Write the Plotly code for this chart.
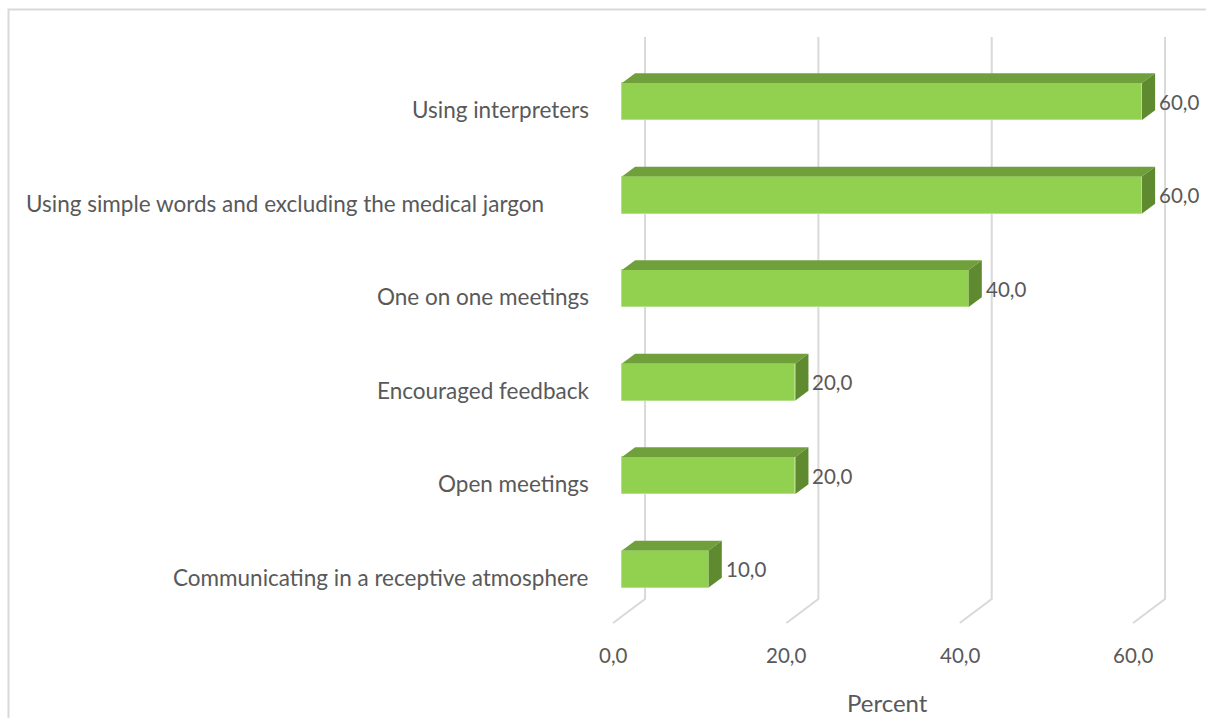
import plotly.graph_objects as go

# --- data -----------------------------------------------------------------
categories = [
    "Communicating in a receptive atmosphere",
    "Open meetings",
    "Encouraged feedback",
    "One on one meetings",
    "Using simple words and excluding the medical jargon",
    "Using interpreters",
]
percent = [10.0, 20.0, 20.0, 40.0, 60.0, 60.0]
tick_values = [0, 20, 40, 60]
axis_title = "Percent"

# --- geometry (pixels) ----------------------------------------------------
W, H = 1206, 718
X0_PX = 622          # front face of the bars at value 0
PX_PER_UNIT = 8.667  # horizontal pixels per percent
Y0_PX = 569          # centre of the first category's front face
PX_PER_CAT = 93.5    # vertical spacing between categories
BAR_H_PX = 37        # front-face height

# oblique depth vector of the floor (front -> back) in pixels
DEPTH_DX_PX, DEPTH_DY_PX = 32, 24
BAR_D0, BAR_D1 = 0.28, 0.69   # bar front / back as fraction of floor depth

WALL_TOP_PX = 37
FLOOR_BACK_PX = 599

FONT = "Lato"
TEXT_COLOR = "#595959"
GRID_COLOR = "#d9d9d9"
FRONT_COLOR = "#92d050"
TOP_COLOR = "#70a03c"
SIDE_COLOR = "#5f8a30"


def ux(px):
    return px / PX_PER_UNIT


def uy(px):
    return px / PX_PER_CAT


def y_of_px(py):
    return (Y0_PX - py) / PX_PER_CAT


x_range = [-X0_PX / PX_PER_UNIT, (W - X0_PX) / PX_PER_UNIT]
y_range = [(Y0_PX - H) / PX_PER_CAT, Y0_PX / PX_PER_CAT]

idx = list(range(len(categories)))
half = uy(BAR_H_PX) / 2

fig = go.Figure()

# front faces of the bars
fig.add_trace(go.Bar(
    x=percent, y=idx, orientation="h", width=2 * half,
    marker=dict(color=FRONT_COLOR, line=dict(color="#b3e08a", width=1)),
    hoverinfo="skip", showlegend=False,
))

shapes = []

# back-wall gridlines with their floor segment
bar_to_wall_dx = ux((1 - BAR_D0) * DEPTH_DX_PX)
bar_to_floor_dx = ux(BAR_D0 * DEPTH_DX_PX)
for t in tick_values:
    xb = t + bar_to_wall_dx
    xf = t - bar_to_floor_dx
    path = (f"M {xb},{y_of_px(WALL_TOP_PX)} L {xb},{y_of_px(FLOOR_BACK_PX)} "
            f"L {xf},{y_of_px(FLOOR_BACK_PX + DEPTH_DY_PX)}")
    shapes.append(dict(type="path", xref="x", yref="y", path=path,
                       line=dict(color=GRID_COLOR, width=2), layer="below"))

# top and side faces of each bar
ddx = ux((BAR_D1 - BAR_D0) * DEPTH_DX_PX)
ddy = uy((BAR_D1 - BAR_D0) * DEPTH_DY_PX)
for i, v in zip(idx, percent):
    yt, yb = i + half, i - half
    top = (f"M 0,{yt} L {ddx},{yt + ddy} L {v + ddx},{yt + ddy} "
           f"L {v},{yt} Z")
    side = (f"M {v},{yt} L {v + ddx},{yt + ddy} L {v + ddx},{yb + ddy} "
            f"L {v},{yb} Z")
    shapes.append(dict(type="path", xref="x", yref="y", path=top,
                       fillcolor=TOP_COLOR, line=dict(width=0), layer="above"))
    shapes.append(dict(type="path", xref="x", yref="y", path=side,
                       fillcolor=SIDE_COLOR, line=dict(width=0), layer="above"))

# chart-area border
shapes.append(dict(type="rect", xref="paper", yref="paper",
                   x0=8.5 / W, x1=1.02, y0=-0.02, y1=1 - 9.5 / H,
                   line=dict(color=GRID_COLOR, width=2), layer="below"))

annotations = []


def fmt(v):
    return f"{v:.1f}".replace(".", ",")


# value labels beside the side faces
for i, v in zip(idx, percent):
    annotations.append(dict(
        x=v + ddx + ux(2), y=i, xref="x", yref="y", text=fmt(v),
        showarrow=False, xanchor="left", yanchor="middle",
        font=dict(family=FONT, size=20.5, color=TEXT_COLOR)))

# category labels
for i, c in zip(idx, categories):
    long_label = len(c) > 45
    annotations.append(dict(
        x=(24 / W) if long_label else (591 / W), xref="paper",
        y=i - uy(8), yref="y", text=c, showarrow=False,
        xanchor="left" if long_label else "right", yanchor="middle",
        font=dict(family=FONT, size=22.5, color=TEXT_COLOR)))

# value-axis tick labels at the front edge of the floor
for t in tick_values:
    annotations.append(dict(
        x=t - bar_to_floor_dx, xref="x", y=y_of_px(655), yref="y",
        text=fmt(t), showarrow=False, xanchor="center", yanchor="middle",
        font=dict(family=FONT, size=20.5, color=TEXT_COLOR)))

# axis title
annotations.append(dict(
    x=887 / W, xref="paper", y=y_of_px(702), yref="y", text=axis_title,
    showarrow=False, xanchor="center", yanchor="middle",
    font=dict(family=FONT, size=24, color=TEXT_COLOR)))

fig.update_layout(
    width=W, height=H, autosize=False,
    margin=dict(l=0, r=0, t=0, b=0),
    paper_bgcolor="white", plot_bgcolor="white",
    xaxis=dict(range=x_range, visible=False, fixedrange=True),
    yaxis=dict(range=y_range, visible=False, fixedrange=True),
    shapes=shapes, annotations=annotations,
    bargap=0,
)

fig.write_html("out.html")
